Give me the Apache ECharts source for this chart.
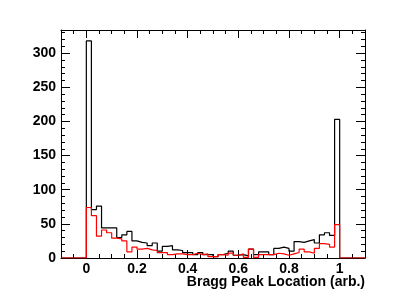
<!DOCTYPE html>
<html>
<head>
<meta charset="utf-8">
<script src="https://cdn.jsdelivr.net/npm/echarts@6/dist/echarts.min.js"></script>
<style>html,body{margin:0;padding:0;background:#fff}#c{width:406px;height:305px}</style>
</head>
<body>
<div id="c"></div>
<script>
// Histogram definition: 60 bins of width 0.02 from -0.1 to 1.1
var xMin = -0.1, xMax = 1.1, binWidth = 0.02;
// counts per bin (bins from -0.1 upward)
var blackCounts = [0,0,0,0,0,
  318,71,76,44,44,44,30,34,39,25,23,22,18,22,10,17,18,12,11,8,
  8,5,8,5,5,2,5,7,10,4,5,3,13,5,9,9,5,14,16,14,10,24,23,25,27,
  22,34,37,33,203,
  0,0,0,0,0];
var redCounts = [0,0,0,0,0,
  74,62,32,41,37,29,28,25,9,16,13,14,12,11,8,8,5,6,6,5,
  5,7,5,6,2,2,5,4,7,4,6,1,13,1,5,5,5,7,6,4,6,8,13,9,7,
  14,21,20,16,49,
  0,0,0,0,0];
var xTickLabels = [0, 0.2, 0.4, 0.6, 0.8, 1];
var yTickLabels = [0, 50, 100, 150, 200, 250, 300];
var yMax = 334;
var xTitle = 'Bragg Peak Location (arb.)';

function stepData(counts) {
  var d = [];
  for (var i = 0; i < counts.length; i++) {
    d.push([+(xMin + i * binWidth).toFixed(4), counts[i]]);
  }
  d.push([xMax, counts[counts.length - 1]]);
  return d;
}

var font = 'Liberation Sans';
var black = '#000';
function xAx(pos, major, labels) {
  return {
    type: 'value', position: pos, min: xMin, max: xMax, interval: 0.05,
    axisLine: {show: !major, onZero: false, lineStyle: {color: black, width: 1}},
    axisTick: major ? {show: true, inside: true, length: 8, customValues: xTickLabels, lineStyle: {color: black}}
                    : {show: true, inside: true, length: 4, lineStyle: {color: black}},
    axisLabel: labels ? {show: true, customValues: xTickLabels, color: black, fontFamily: font, fontWeight: 700, fontSize: 14, margin: 4}
                      : {show: false},
    splitLine: {show: false}
  };
}
function yAx(pos, major, labels) {
  return {
    type: 'value', position: pos, min: 0, max: yMax, interval: 10,
    axisLine: {show: !major, onZero: false, lineStyle: {color: black, width: 1}},
    axisTick: major ? {show: true, inside: true, length: 9, customValues: yTickLabels, lineStyle: {color: black}}
                    : {show: true, inside: true, length: 4, lineStyle: {color: black}},
    axisLabel: labels ? {show: true, customValues: yTickLabels, color: black, fontFamily: font, fontWeight: 700, fontSize: 14, margin: 5}
                      : {show: false},
    splitLine: {show: false}
  };
}

var chart = echarts.init(document.getElementById('c'), null, {renderer: 'canvas'});
chart.setOption({
  animation: false,
  backgroundColor: '#fff',
  grid: {left: 61, right: 41, top: 30, bottom: 47},
  title: {text: xTitle, right: 41, top: 275, textStyle: {fontFamily: font, fontWeight: 700, fontSize: 14, color: black}, padding: 0},
  xAxis: [xAx('bottom', false, false), xAx('bottom', true, true), xAx('top', false, false), xAx('top', true, false)],
  yAxis: [yAx('left', false, false), yAx('left', true, true), yAx('right', false, false), yAx('right', true, false)],
  series: [
    {type: 'line', step: 'end', data: stepData(blackCounts), symbol: 'none', lineStyle: {color: '#000', width: 1.2}, xAxisIndex: 0, yAxisIndex: 0},
    {type: 'line', step: 'end', data: stepData(redCounts), symbol: 'none', lineStyle: {color: '#ff0000', width: 1.2}, xAxisIndex: 0, yAxisIndex: 0}
  ]
});
</script>
</body>
</html>
